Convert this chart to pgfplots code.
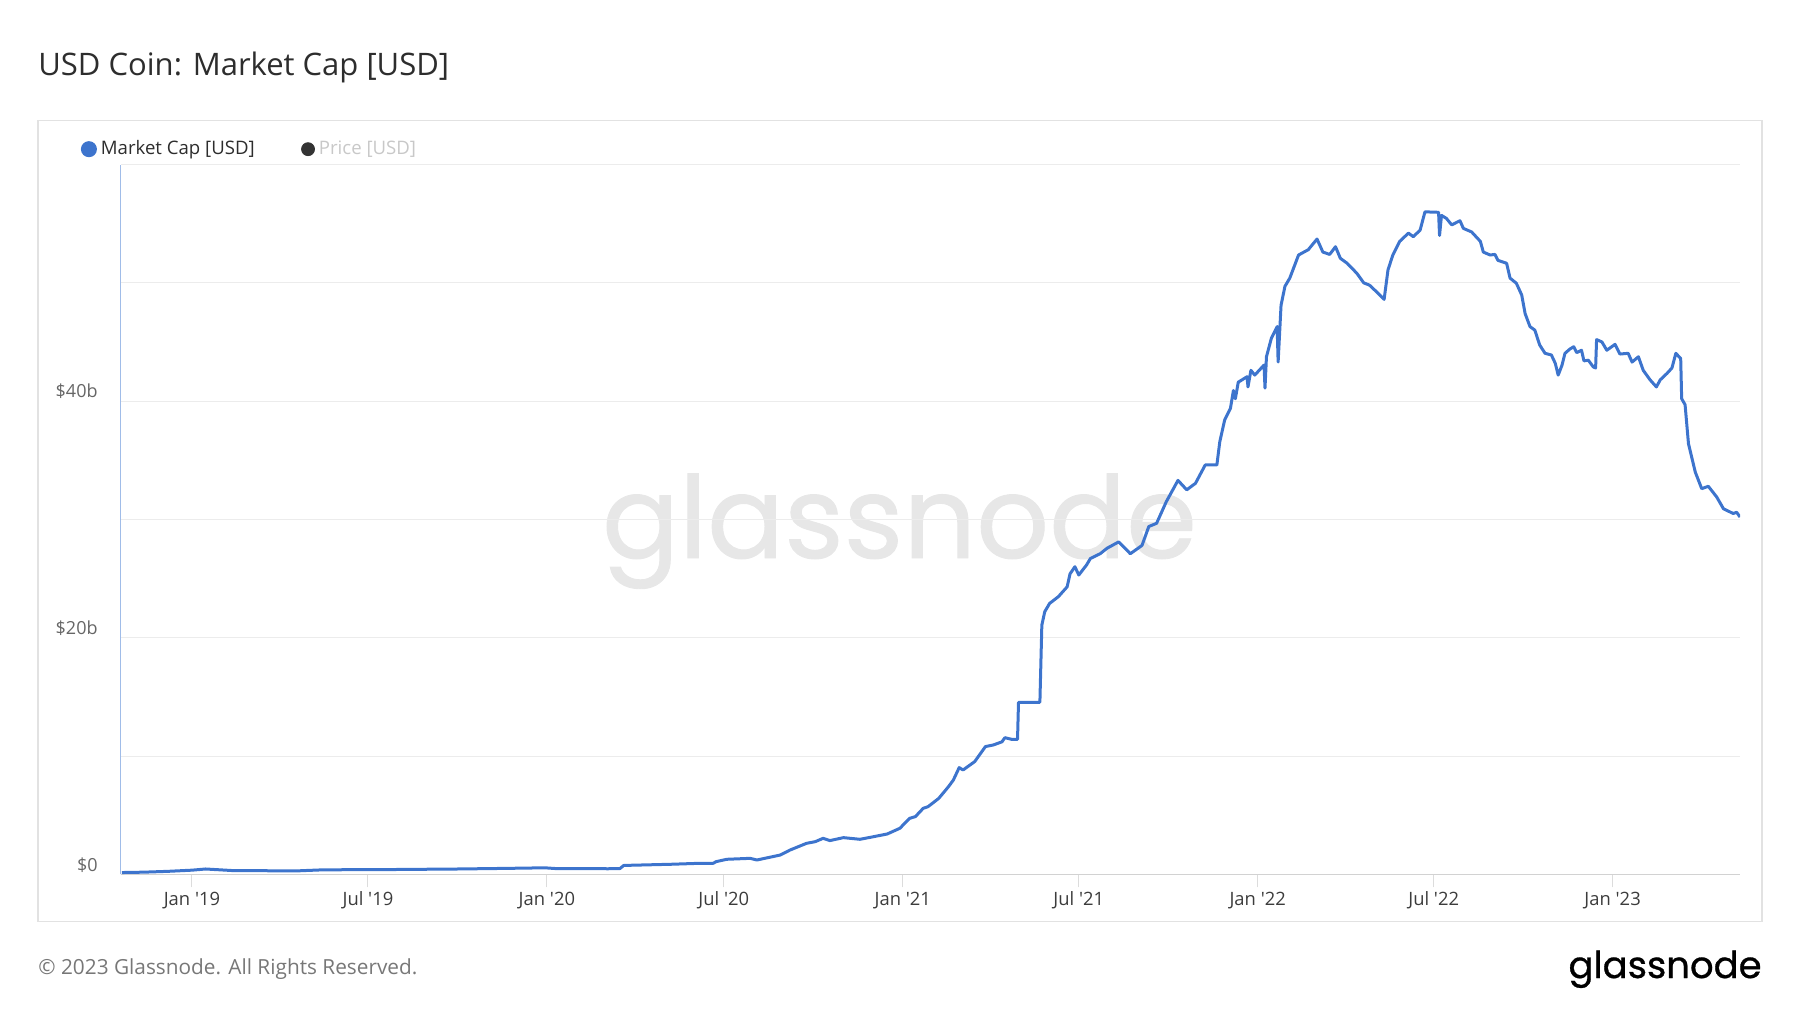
\documentclass[border=0pt]{standalone}
\usepackage{fontspec}
\usepackage{pgfplots}
\pgfplotsset{compat=1.18}
\setmainfont{Open Sans}
\newfontfamily\logofont[FakeBold=0.8]{Poppins}
\definecolor{mcblue}{RGB}{61,116,205}
\definecolor{titlec}{RGB}{45,45,45}
\definecolor{ticklab}{RGB}{60,60,60}
\definecolor{ylab}{RGB}{102,102,102}
\definecolor{footc}{RGB}{119,119,119}
\definecolor{gridc}{RGB}{236,236,236}
\definecolor{boxc}{RGB}{226,226,226}
\definecolor{wmc}{RGB}{231,231,231}
\definecolor{xaxisc}{RGB}{210,210,210}
\definecolor{yaxisc}{RGB}{160,188,232}
\definecolor{tickc}{RGB}{220,220,220}
\definecolor{dotc}{RGB}{51,51,51}
\definecolor{pricec}{RGB}{200,200,200}
\begin{document}
\begin{tikzpicture}[x=0.5pt,y=-0.5pt]
\path[use as bounding box] (0,0) rectangle (1800,1013);
\draw[boxc, line width=0.75pt] (38,120.5) rectangle (1762,921.5);
\node[anchor=base west, inner sep=0pt, font=\fontsize{15.5}{18}\selectfont, text=titlec] at (38,75) {USD Coin: Market Cap [USD]};
\node[anchor=base, inner sep=0pt, font=\logofont\fontsize{57}{66}\selectfont, text=wmc] at (899.5,558) {glassnode};
\begin{axis}[
  at={(60.5pt,-437.15pt)}, anchor=south west,
  scale only axis, width=809.5pt, height=354.9pt,
  xmin=-73, xmax=1592, ymin=0, ymax=60,
  axis lines*=left,
  x axis line style={xaxisc, line width=0.5pt},
  y axis line style={yaxisc, line width=0.5pt},
  xtick={0,181,365,547,731,912,1096,1277,1461},
  xticklabels={Jan \textquotesingle19,Jul \textquotesingle19,Jan \textquotesingle20,Jul \textquotesingle20,Jan \textquotesingle21,Jul \textquotesingle21,Jan \textquotesingle22,Jul \textquotesingle22,Jan \textquotesingle23},
  ytick={0,10,20,30,40,50,60},
  yticklabels={\$0,,\$20b,,\$40b,,},
  tick align=outside,
  major tick length=6.5pt,
  xtick style={draw=tickc, line width=0.5pt},
  ytick style={draw=none},
  ymajorgrids, grid style={gridc, line width=0.5pt},
  xticklabel style={anchor=base, inner sep=0pt, yshift=-8.85pt, font=\fontsize{9.2}{11}\selectfont, text=ticklab},
  yticklabel style={anchor=base east, inner sep=0pt, xshift=-5pt, yshift=1.6pt, font=\fontsize{9}{11}\selectfont, text=ylab},
  legend style={at={(-0.025,1.0216)}, anchor=west, draw=none, fill=none, inner sep=0pt,
    font=\fontsize{9.3}{11}\selectfont, text=titlec, legend columns=2,
    /tikz/every even column/.append style={column sep=21.2pt}},
  legend image code/.code={\fill (3.25pt,0pt) circle (3.25pt);},
]
\addplot[color=mcblue, line width=1.5pt, line join=round] table {
-72 0.15
-50 0.18
-25 0.25
0 0.35
14 0.45
41 0.32
80 0.30
111 0.30
135 0.38
200 0.40
274 0.45
322 0.50
363 0.55
375 0.48
428 0.47
440 0.48
444 0.75
493 0.85
522 0.93
536 0.93
539 1.07
550 1.27
574 1.35
581 1.21
605 1.63
615 2.05
632 2.62
641 2.76
649 3.04
656 2.85
670 3.10
687 2.96
701 3.18
715 3.41
728 3.89
738 4.73
744 4.88
752 5.58
757 5.72
768 6.42
778 7.41
783 7.97
789 9.02
793 8.82
805 9.53
816 10.8
824 10.93
833 11.2
836 11.55
843 11.41
849 11.41
850 14.54
872 14.54
874 21.07
877 22.2
882 22.9
891 23.47
900 24.3
903 25.4
908 26.0
912 25.3
920 26.15
924 26.7
934 27.1
941 27.56
953 28.1
965 27.1
977 27.8
984 29.4
992 29.67
1002 31.5
1014 33.3
1023 32.5
1032 33.05
1042 34.6
1054 34.6
1057 36.56
1062 38.4
1068 39.4
1071 40.9
1073 40.2
1076 41.6
1085 42.06
1086 41.2
1089 42.6
1093 42.2
1102.5 43.05
1103.5 41.1
1105 43.75
1110 45.3
1116 46.3
1117 43.3
1120 48.1
1124 49.7
1129 50.4
1138 52.35
1148 52.8
1157 53.7
1163 52.6
1170 52.4
1176 53.05
1181 52.07
1188 51.65
1198 50.8
1205 50.0
1211 49.8
1220 49.1
1226 48.6
1230 51.1
1235 52.35
1242 53.5
1251 54.2
1256 53.9
1263 54.45
1268 56.0
1282 55.96
1283 54.0
1285 55.7
1290 55.45
1295.5 54.9
1304 55.25
1307.5 54.6
1316 54.3
1325 53.5
1328 52.6
1335 52.35
1340 52.4
1343 51.9
1352 51.65
1355.5 50.4
1362 49.96
1367.5 48.97
1371 47.4
1376 46.3
1381 46.0
1386 44.74
1391.5 44.04
1398 43.9
1402 43.2
1405 42.2
1409 43.05
1412 44.04
1417 44.4
1421 44.6
1424 44.1
1429 44.3
1431.5 43.4
1436 43.46
1441 42.9
1443.5 42.8
1444.5 45.2
1450 45.0
1455 44.3
1463.5 44.8
1468.5 43.98
1477 44.04
1481 43.3
1487.5 43.75
1492.5 42.6
1499.5 41.8
1506 41.2
1510 41.8
1517 42.35
1522 42.8
1526 44.04
1531 43.6
1532 40.2
1535.5 39.7
1539 36.4
1546 34.0
1552.6 32.6
1559.4 32.8
1568 31.9
1575 30.9
1585 30.5
1588.6 30.6
1592 30.2
};
\addlegendentry{Market Cap [USD]}
\addlegendimage{color=dotc}
\addlegendentry{\textcolor{pricec}{Price [USD]}}
\end{axis}
\node[anchor=base west, inner sep=0pt, font=\fontsize{10.4}{12}\selectfont, text=footc] at (38,974) {© 2023 Glassnode. All Rights Reserved.};
\node[anchor=base east, inner sep=0pt, font=\logofont\fontsize{18.5}{22}\selectfont, text=black] at (1762,978) {glassnode};
\end{tikzpicture}
\end{document}
